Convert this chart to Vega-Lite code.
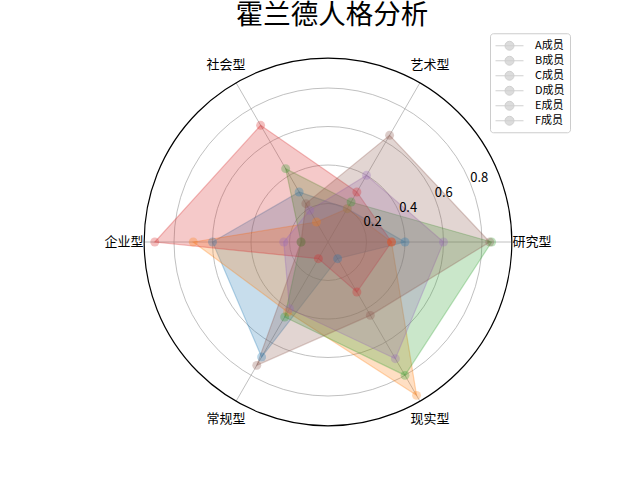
{
  "$schema": "https://vega.github.io/schema/vega-lite/v6.json",
  "width": 462,
  "height": 442.75,
  "autosize": {"type": "none"},
  "padding": {"left": 97, "top": 30.25, "right": 81, "bottom": 7},
  "background": "white",
  "title": {
    "text": "霍兰德人格分析",
    "font": "Noto Sans CJK SC",
    "fontSize": 27.5,
    "fontWeight": "normal",
    "color": "#000000",
    "anchor": "middle",
    "frame": "group",
    "baseline": "bottom",
    "offset": -27,
    "dx": 4
  },
  "config": {
    "view": {"stroke": null},
    "font": "Noto Sans CJK SC"
  },
  "resolve": {"scale": {"color": "independent", "fill": "independent"}},
  "datasets": {
    "scores": [
      {"member": "A成员", "dim": "研究型", "value": 0.40},
      {"member": "A成员", "dim": "艺术型", "value": 0.20},
      {"member": "A成员", "dim": "社会型", "value": 0.30},
      {"member": "A成员", "dim": "企业型", "value": 0.60},
      {"member": "A成员", "dim": "常规型", "value": 0.69},
      {"member": "A成员", "dim": "现实型", "value": 0.10},
      {"member": "B成员", "dim": "研究型", "value": 0.33},
      {"member": "B成员", "dim": "艺术型", "value": 0.20},
      {"member": "B成员", "dim": "社会型", "value": 0.12},
      {"member": "B成员", "dim": "企业型", "value": 0.70},
      {"member": "B成员", "dim": "常规型", "value": 0.42},
      {"member": "B成员", "dim": "现实型", "value": 0.92},
      {"member": "C成员", "dim": "研究型", "value": 0.85},
      {"member": "C成员", "dim": "艺术型", "value": 0.24},
      {"member": "C成员", "dim": "社会型", "value": 0.44},
      {"member": "C成员", "dim": "企业型", "value": 0.14},
      {"member": "C成员", "dim": "常规型", "value": 0.45},
      {"member": "C成员", "dim": "现实型", "value": 0.80},
      {"member": "D成员", "dim": "研究型", "value": 0.33},
      {"member": "D成员", "dim": "艺术型", "value": 0.30},
      {"member": "D成员", "dim": "社会型", "value": 0.70},
      {"member": "D成员", "dim": "企业型", "value": 0.90},
      {"member": "D成员", "dim": "常规型", "value": 0.10},
      {"member": "D成员", "dim": "现实型", "value": 0.30},
      {"member": "E成员", "dim": "研究型", "value": 0.60},
      {"member": "E成员", "dim": "艺术型", "value": 0.40},
      {"member": "E成员", "dim": "社会型", "value": 0.19},
      {"member": "E成员", "dim": "企业型", "value": 0.23},
      {"member": "E成员", "dim": "常规型", "value": 0.40},
      {"member": "E成员", "dim": "现实型", "value": 0.70},
      {"member": "F成员", "dim": "研究型", "value": 0.84},
      {"member": "F成员", "dim": "艺术型", "value": 0.64},
      {"member": "F成员", "dim": "社会型", "value": 0.23},
      {"member": "F成员", "dim": "企业型", "value": 0.14},
      {"member": "F成员", "dim": "常规型", "value": 0.74},
      {"member": "F成员", "dim": "现实型", "value": 0.44}
    ],
    "dims": [
      {"dim": "研究型"}, {"dim": "艺术型"}, {"dim": "社会型"},
      {"dim": "企业型"}, {"dim": "常规型"}, {"dim": "现实型"}
    ],
    "rings": [{"r": 0.2}, {"r": 0.4}, {"r": 0.6}, {"r": 0.8}],
    "outer": [{"r": 0.955}]
  },
  "layer": [
    {
      "data": {"name": "rings"},
      "mark": {"type": "point", "shape": "circle", "filled": false, "stroke": "#b0b0b0", "strokeWidth": 0.8, "opacity": 1},
      "encoding": {
        "x": {"datum": 0, "type": "quantitative", "scale": {"domain": [-1.2, 1.2], "nice": false, "zero": false}, "axis": null},
        "y": {"datum": 0, "type": "quantitative", "scale": {"domain": [-1.2, 1.1], "nice": false, "zero": false}, "axis": null},
        "size": {"field": "r", "type": "quantitative", "scale": {"type": "pow", "exponent": 2, "domain": [0, 1], "range": [0, 148225], "zero": true}, "legend": null}
      }
    },
    {
      "data": {"name": "dims"},
      "transform": [
        {"calculate": "indexof(['研究型','艺术型','社会型','企业型','常规型','现实型'], datum.dim) * PI / 3", "as": "a"},
        {"calculate": "0.955 * cos(datum.a)", "as": "sx"},
        {"calculate": "0.955 * sin(datum.a)", "as": "sy"},
        {"calculate": "0", "as": "zero"}
      ],
      "mark": {"type": "rule", "color": "#b0b0b0", "strokeWidth": 0.8},
      "encoding": {
        "x": {"field": "zero", "type": "quantitative", "scale": {"domain": [-1.2, 1.2], "nice": false, "zero": false}, "axis": null},
        "y": {"field": "zero", "type": "quantitative", "scale": {"domain": [-1.2, 1.1], "nice": false, "zero": false}, "axis": null},
        "x2": {"field": "sx"},
        "y2": {"field": "sy"}
      }
    },
    {
      "data": {"name": "outer"},
      "mark": {"type": "point", "shape": "circle", "filled": false, "stroke": "#000000", "strokeWidth": 1.2, "opacity": 1},
      "encoding": {
        "x": {"datum": 0, "type": "quantitative", "scale": {"domain": [-1.2, 1.2], "nice": false, "zero": false}, "axis": null},
        "y": {"datum": 0, "type": "quantitative", "scale": {"domain": [-1.2, 1.1], "nice": false, "zero": false}, "axis": null},
        "size": {"field": "r", "type": "quantitative", "scale": {"type": "pow", "exponent": 2, "domain": [0, 1], "range": [0, 148225], "zero": true}, "legend": null}
      }
    },
    {
      "data": {"name": "scores"},
      "transform": [
        {"calculate": "indexof(['研究型','艺术型','社会型','企业型','常规型','现实型'], datum.dim)", "as": "idx"},
        {"calculate": "datum.value * cos(datum.idx * PI / 3)", "as": "px"},
        {"calculate": "datum.value * sin(datum.idx * PI / 3)", "as": "py"}
      ],
      "layer": [
        {
          "mark": {"type": "line", "interpolate": "linear-closed", "strokeWidth": 1.2, "strokeOpacity": 0.3, "fillOpacity": 0.25},
          "encoding": {
            "x": {"field": "px", "type": "quantitative", "scale": {"domain": [-1.2, 1.2], "nice": false, "zero": false}, "axis": null},
            "y": {"field": "py", "type": "quantitative", "scale": {"domain": [-1.2, 1.1], "nice": false, "zero": false}, "axis": null},
            "order": {"field": "idx", "type": "quantitative"},
            "color": {
              "field": "member", "type": "nominal",
              "scale": {"domain": ["A成员", "B成员", "C成员", "D成员", "E成员", "F成员"], "range": ["#1f77b4", "#ff7f0e", "#2ca02c", "#d62728", "#9467bd", "#8c564b"]},
              "legend": null
            },
            "fill": {
              "field": "member", "type": "nominal",
              "scale": {"domain": ["A成员", "B成员", "C成员", "D成员", "E成员", "F成员"], "range": ["#1f77b4", "#ff7f0e", "#2ca02c", "#d62728", "#9467bd", "#8c564b"]},
              "legend": null
            }
          }
        },
        {
          "mark": {"type": "circle", "size": 80, "opacity": 0.3, "strokeWidth": 1},
          "encoding": {
            "x": {"field": "px", "type": "quantitative", "scale": {"domain": [-1.2, 1.2], "nice": false, "zero": false}, "axis": null},
            "y": {"field": "py", "type": "quantitative", "scale": {"domain": [-1.2, 1.1], "nice": false, "zero": false}, "axis": null},
            "color": {"field": "member", "type": "nominal", "legend": null}
          }
        }
      ]
    },
    {
      "data": {"name": "scores"},
      "transform": [{"calculate": "datum.value + 10", "as": "hidden"}],
      "mark": {"type": "line", "clip": true, "strokeWidth": 1, "strokeOpacity": 1, "fillOpacity": 1},
      "encoding": {
        "x": {"field": "hidden", "type": "quantitative", "scale": {"domain": [-1.2, 1.2], "nice": false, "zero": false}, "axis": null},
        "y": {"field": "hidden", "type": "quantitative", "scale": {"domain": [-1.2, 1.1], "nice": false, "zero": false}, "axis": null},
        "color": {
          "field": "member", "type": "nominal",
          "scale": {"domain": ["A成员", "B成员", "C成员", "D成员", "E成员", "F成员"], "range": ["#d0d0d0", "#d0d0d0", "#d0d0d0", "#d0d0d0", "#d0d0d0", "#d0d0d0"]},
          "legend": {
            "orient": "none",
            "legendX": 393,
            "legendY": 3,
            "title": null,
            "symbolType": "M-1,0L3,0M0.36,0A0.64,0.64,0,1,1,1.64,0A0.64,0.64,0,1,1,0.36,0Z",
            "symbolSize": 196,
            "symbolStrokeWidth": 1,
            "labelFont": "Noto Sans CJK SC",
            "labelFontSize": 11,
            "labelColor": "#000000",
            "labelOffset": 25,
            "rowPadding": 1,
            "padding": 5,
            "strokeColor": "#cccccc",
            "fillColor": "#ffffff",
            "cornerRadius": 3,
            "encode": {
              "symbols": {"update": {"opacity": {"value": 1}, "fillOpacity": {"value": 1}, "strokeOpacity": {"value": 1}}}
            }
          }
        },
        "fill": {
          "field": "member", "type": "nominal",
          "scale": {"domain": ["A成员", "B成员", "C成员", "D成员", "E成员", "F成员"], "range": ["#dcdcdc", "#dcdcdc", "#dcdcdc", "#dcdcdc", "#dcdcdc", "#dcdcdc"]},
          "legend": null
        }
      }
    },
    {
      "data": {"name": "dims"},
      "transform": [
        {"calculate": "indexof(['研究型','艺术型','社会型','企业型','常规型','现实型'], datum.dim) * PI / 3", "as": "a"},
        {"calculate": "1.06 * cos(datum.a)", "as": "lx"},
        {"calculate": "1.06 * sin(datum.a)", "as": "ly"}
      ],
      "mark": {"type": "text", "fontSize": 13, "align": "center", "baseline": "middle", "color": "#000000"},
      "encoding": {
        "x": {"field": "lx", "type": "quantitative", "scale": {"domain": [-1.2, 1.2], "nice": false, "zero": false}, "axis": null},
        "y": {"field": "ly", "type": "quantitative", "scale": {"domain": [-1.2, 1.1], "nice": false, "zero": false}, "axis": null},
        "text": {"field": "dim", "type": "nominal"}
      }
    },
    {
      "data": {"values": [{"t": 0.2}, {"t": 0.4}, {"t": 0.6}, {"t": 0.8}]},
      "transform": [
        {"calculate": "datum.t * cos(PI / 8)", "as": "tx"},
        {"calculate": "datum.t * sin(PI / 8)", "as": "ty"}
      ],
      "mark": {"type": "text", "fontSize": 13, "align": "left", "baseline": "alphabetic", "dy": -1, "color": "#000000"},
      "encoding": {
        "x": {"field": "tx", "type": "quantitative", "scale": {"domain": [-1.2, 1.2], "nice": false, "zero": false}, "axis": null},
        "y": {"field": "ty", "type": "quantitative", "scale": {"domain": [-1.2, 1.1], "nice": false, "zero": false}, "axis": null},
        "text": {"field": "t", "type": "quantitative", "format": ".1f"}
      }
    }
  ]
}
